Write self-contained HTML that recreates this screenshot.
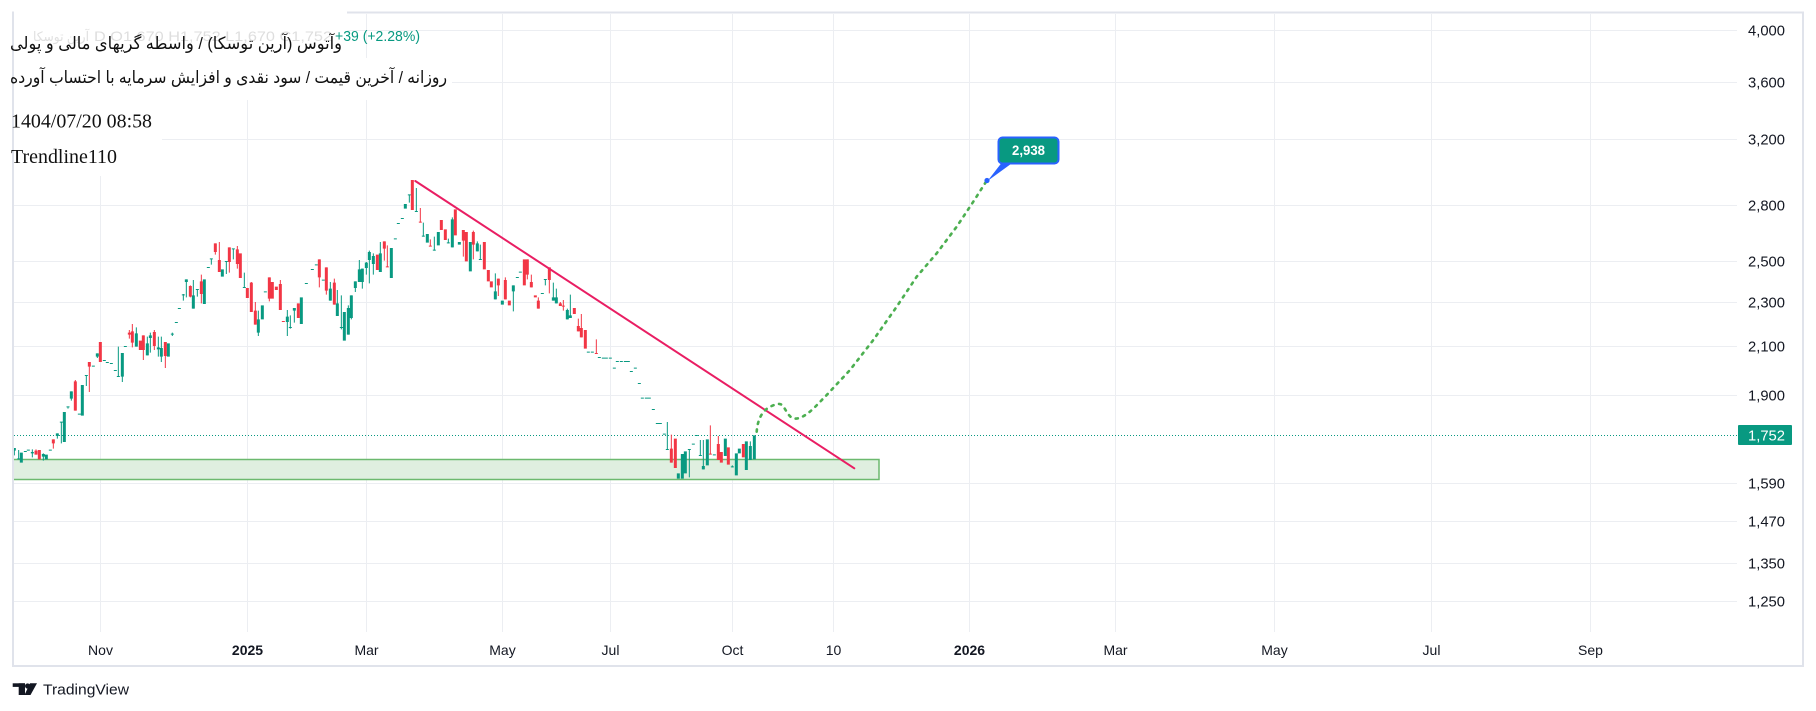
<!DOCTYPE html>
<html>
<head>
<meta charset="utf-8">
<style>
html,body{margin:0;padding:0;background:#ffffff;}
body{width:1816px;height:711px;overflow:hidden;}
svg{display:block;}
.ax{font-family:"Liberation Sans",sans-serif;font-size:15px;fill:#131722;}
.tx{font-family:"Liberation Sans",sans-serif;font-size:14px;fill:#131722;}
</style>
</head>
<body>
<svg width="1816" height="711" viewBox="0 0 1816 711" xmlns="http://www.w3.org/2000/svg">
<defs>
<clipPath id="pane"><rect x="14" y="14" width="1723" height="618"/></clipPath>
</defs>
<rect x="0" y="0" width="1816" height="711" fill="#ffffff"/>

<!-- grid -->
<g stroke="#eceef2" stroke-width="1">
<line x1="100.5" y1="14" x2="100.5" y2="632"/>
<line x1="247.5" y1="14" x2="247.5" y2="632"/>
<line x1="366.5" y1="14" x2="366.5" y2="632"/>
<line x1="502.5" y1="14" x2="502.5" y2="632"/>
<line x1="610.5" y1="14" x2="610.5" y2="632"/>
<line x1="732.5" y1="14" x2="732.5" y2="632"/>
<line x1="833.5" y1="14" x2="833.5" y2="632"/>
<line x1="969.5" y1="14" x2="969.5" y2="632"/>
<line x1="1115.5" y1="14" x2="1115.5" y2="632"/>
<line x1="1274.5" y1="14" x2="1274.5" y2="632"/>
<line x1="1431.5" y1="14" x2="1431.5" y2="632"/>
<line x1="1590.5" y1="14" x2="1590.5" y2="632"/>
<line x1="14" y1="30.5" x2="1737" y2="30.5"/>
<line x1="14" y1="82.5" x2="1737" y2="82.5"/>
<line x1="14" y1="139.5" x2="1737" y2="139.5"/>
<line x1="14" y1="205.5" x2="1737" y2="205.5"/>
<line x1="14" y1="261.5" x2="1737" y2="261.5"/>
<line x1="14" y1="302.5" x2="1737" y2="302.5"/>
<line x1="14" y1="346.5" x2="1737" y2="346.5"/>
<line x1="14" y1="395.5" x2="1737" y2="395.5"/>
<line x1="14" y1="483.5" x2="1737" y2="483.5"/>
<line x1="14" y1="521.5" x2="1737" y2="521.5"/>
<line x1="14" y1="563.5" x2="1737" y2="563.5"/>
<line x1="14" y1="601.5" x2="1737" y2="601.5"/>
</g>

<g clip-path="url(#pane)">
<!-- support zone -->
<rect x="8" y="459.5" width="871" height="20" fill="#dfefe0" stroke="#6cb96f" stroke-width="1.5"/>

<!-- last price dotted line -->
<line x1="14" y1="435.5" x2="1737" y2="435.5" stroke="#089981" stroke-width="1" stroke-dasharray="1 2"/>

<!-- candles group 1 -->
<g transform="translate(0,220) scale(0.3333333)" fill="none" stroke-linecap="butt">
<path stroke="#089981" stroke-width="3" d="M43 684V706 M56 690V718 M97 688V712 M130 700V722 M172 640V656 M184 606V670 M204 560V566 M214 514V542 M259 466V498 M292 400V414 M355 380V469 M367 399V486 M409 322V380 M442 350V406 M451 338V398 M475 350V410 M484 350V426 M517 338V348 M550 222V242 M559 178V232 M580 180V266 M592 208V230 M634 116V134 M679 124V162 M700 86V118 M733 158V202 M775 272V348"/>
<path stroke="#089981" stroke-width="9" d="M43 684V692 M64 698V728 M97 696V700 M130 702V710 M139 704V718 M172 640V648 M193 576V666 M214 514V536 M247 495V587 M292 400V410 M367 399V470 M409 340V380 M442 370V406 M451 346V354 M475 382V388 M484 384V410 M505 370V410 M559 178V186 M580 226V266 M613 178V252 M667 148V170 M775 298V338 M787 256V298 M56 715V718 M76 693V696 M85 689V692 M151 689V692 M184 605V608 M204 559V562 M238 581V584 M259 465V468 M280 437V440 M313 420V423 M322 426V429 M334 429V432 M346 450V453 M355 468V471 M376 378V381 M517 341V344 M529 306V309 M538 264V267 M550 223V226 M592 207V210 M625 141V144 M634 115V118 M679 123V126 M700 85V88 M733 201V204"/>
<path stroke="#f23645" stroke-width="3" d="M108 688V704 M160 658V686 M226 480V572 M268 426V516 M388 330V356 M397 312V382 M430 346V420 M463 330V390 M496 366V444 M571 196V232 M604 164V250 M646 70V104 M658 66V156 M688 82V158 M712 78V146 M754 186V276 M766 246V314"/>
<path stroke="#f23645" stroke-width="9" d="M108 692V704 M118 690V718 M160 658V670 M226 484V572 M268 426V440 M301 366V426 M388 338V344 M397 334V368 M421 362V390 M430 346V390 M463 336V378 M496 366V408 M571 198V230 M604 184V222 M646 70V96 M658 120V156 M688 82V126 M712 88V132 M721 100V174 M742 204V234 M754 188V276 M766 272V314"/>
</g>

<!-- candles group 2 -->
<g transform="translate(260,170) scale(0.3333333)" fill="none" stroke-linecap="butt">
<path stroke="#089981" stroke-width="3" d="M82 420V498 M91 436V476 M103 414V458 M211 336V392 M232 360V438 M244 376V478 M265 406V494 M274 376V448 M286 334V366 M298 270V336 M307 296V356 M319 276V314 M328 242V340 M340 250V314 M361 216V306 M448 74V98 M469 54V124 M490 158V200 M523 200V242 M565 206V220 M577 142V232 M652 214V244 M661 224V268 M706 310V388 M760 346V424"/>
<path stroke="#089981" stroke-width="9" d="M82 440V456 M103 414V422 M124 382V462 M211 356V392 M232 400V438 M253 426V512 M265 414V494 M274 376V444 M286 334V354 M298 298V336 M307 296V336 M319 278V294 M328 246V270 M340 258V282 M361 250V306 M394 234V324 M436 102V116 M502 192V218 M535 186V226 M577 148V232 M598 216V224 M631 216V304 M652 220V244 M706 364V388 M727 392V404 M760 346V364 M16 364V367 M91 471V474 M139 339V342 M157 297V300 M169 283V286 M190 329V332 M244 471V474 M406 205V208 M415 159V162 M427 144V147 M448 73V76 M469 123V126 M490 197V200 M523 239V242 M565 217V220 M661 267V270 M772 321V324 M781 305V308"/>
<path stroke="#f23645" stroke-width="3" d="M28 322V394 M61 330V420 M178 268V352 M199 292V374 M223 326V404 M373 214V272 M382 226V290 M481 114V158 M511 208V228 M610 180V260 M640 182V268 M715 326V378 M736 322V388"/>
<path stroke="#f23645" stroke-width="9" d="M28 322V386 M37 336V386 M49 350V360 M61 342V420 M115 400V444 M178 268V322 M199 292V362 M223 338V404 M352 254V300 M373 214V236 M457 30V120 M544 150V180 M556 178V210 M586 118V196 M610 180V212 M619 186V274 M640 186V224 M673 216V298 M685 300V334 M694 334V352 M715 326V346 M736 330V388 M748 392V406 M70 453V456 M382 289V292 M481 155V158 M511 227V230"/>
</g>

<!-- candles group 3 -->
<g transform="translate(520,240) scale(0.3333333)" fill="none" stroke-linecap="butt">
<path stroke="#089981" stroke-width="3" d="M76 118V136 M100 128V182 M109 146V190 M142 206V238 M151 164V234 M442 546V628 M508 628V712 M541 600V646 M550 600V688 M637 676V682 M691 604V660"/>
<path stroke="#089981" stroke-width="9" d="M100 172V182 M109 172V190 M142 210V238 M151 226V234 M475 700V716 M487 642V716 M496 634V700 M550 678V688 M562 598V676 M616 596V648 M649 640V706 M658 626V640 M679 604V690 M691 618V660 M703 586V658 M67 159V162 M76 117V120 M205 335V338 M217 335V338 M238 351V354 M250 353V356 M259 353V356 M271 353V356 M283 383V386 M292 363V366 M304 363V366 M316 363V366 M325 363V366 M334 393V396 M346 383V386 M358 429V432 M367 473V476 M379 473V476 M388 473V476 M400 507V510 M412 549V552 M421 549V552 M433 581V584 M442 627V630 M508 627V630 M520 611V614 M529 585V588 M541 645V648 M583 643V646 M637 679V682"/>
<path stroke="#f23645" stroke-width="3" d="M22 58V118 M34 104V142 M55 172V206 M88 82V160 M121 186V198 M130 180V212 M175 236V274 M184 222V292 M229 298V340 M454 584V668 M571 556V642 M595 588V660"/>
<path stroke="#f23645" stroke-width="9" d="M13 58V136 M22 58V104 M34 126V142 M46 166V172 M55 182V206 M88 82V120 M121 190V198 M163 204V222 M175 258V274 M184 264V292 M196 270V326 M454 626V668 M466 596V684 M595 612V660 M604 636V668 M625 622V674 M670 612V652 M130 197V200 M229 339V342 M571 641V644"/>
</g>

<!-- trendline -->
<line x1="415.3" y1="181" x2="854.3" y2="468.3" stroke="#e91e63" stroke-width="2" stroke-linecap="round"/>

<!-- projection path -->
<path d="M756.7 431.7 C757.5 420 762 410 771.7 406 C776 404 780 402.5 783 406 C786 410 788 416 793 418.3 C800 420 808 414 816 406 L826.7 395 L850 370 L873.3 340 L896.7 306.7 L916.7 276.7 L936.7 253.3 L956.7 226.7 L973.3 201.7 L986.7 180.7" fill="none" stroke="#4caf50" stroke-width="2.6" stroke-dasharray="2.2 5.6" stroke-linecap="round"/>

<!-- callout -->
<polygon points="1003,161 1015,161 987.5,181" fill="#2962ff"/>
<circle cx="987" cy="180.5" r="2.6" fill="#2962ff"/>
<rect x="998.5" y="137.5" width="60" height="26" rx="4" ry="4" fill="#089981" stroke="#2962ff" stroke-width="2"/>
<text x="1028.5" y="155" text-anchor="middle" font-family="Liberation Sans, sans-serif" font-size="14" font-weight="bold" fill="#ffffff" textLength="33" lengthAdjust="spacingAndGlyphs">2,938</text>
</g>

<!-- frame -->
<rect x="13" y="12.5" width="1790" height="653.5" fill="none" stroke="#e0e3eb" stroke-width="2"/>

<!-- price axis labels -->
<g class="ax">
<text x="1748" y="35.5" textLength="37" lengthAdjust="spacingAndGlyphs">4,000</text>
<text x="1748" y="87.5" textLength="37" lengthAdjust="spacingAndGlyphs">3,600</text>
<text x="1748" y="144.5" textLength="37" lengthAdjust="spacingAndGlyphs">3,200</text>
<text x="1748" y="210.5" textLength="37" lengthAdjust="spacingAndGlyphs">2,800</text>
<text x="1748" y="266.5" textLength="37" lengthAdjust="spacingAndGlyphs">2,500</text>
<text x="1748" y="307.5" textLength="37" lengthAdjust="spacingAndGlyphs">2,300</text>
<text x="1748" y="351.5" textLength="37" lengthAdjust="spacingAndGlyphs">2,100</text>
<text x="1748" y="400.5" textLength="37" lengthAdjust="spacingAndGlyphs">1,900</text>
<text x="1748" y="488.5" textLength="37" lengthAdjust="spacingAndGlyphs">1,590</text>
<text x="1748" y="526.5" textLength="37" lengthAdjust="spacingAndGlyphs">1,470</text>
<text x="1748" y="568.5" textLength="37" lengthAdjust="spacingAndGlyphs">1,350</text>
<text x="1748" y="606.5" textLength="37" lengthAdjust="spacingAndGlyphs">1,250</text>
</g>
<rect x="1738" y="425" width="54" height="20" rx="1" fill="#089981"/>
<text x="1748" y="440.5" font-family="Liberation Sans, sans-serif" font-size="15" fill="#ffffff" textLength="37" lengthAdjust="spacingAndGlyphs">1,752</text>

<!-- time axis labels -->
<g class="tx" text-anchor="middle">
<text x="100.5" y="655">Nov</text>
<text x="247.5" y="655" font-weight="bold">2025</text>
<text x="366.5" y="655">Mar</text>
<text x="502.5" y="655">May</text>
<text x="610.5" y="655">Jul</text>
<text x="732.5" y="655">Oct</text>
<text x="833.5" y="655">10</text>
<text x="969.5" y="655" font-weight="bold">2026</text>
<text x="1115.5" y="655">Mar</text>
<text x="1274.5" y="655">May</text>
<text x="1431.5" y="655">Jul</text>
<text x="1590.5" y="655">Sep</text>
</g>

<!-- header boxes -->
<rect x="14" y="0" width="333" height="58" fill="#ffffff"/>
<rect x="14" y="58" width="438" height="42" fill="#ffffff"/>
<rect x="14" y="100" width="148" height="76" fill="#ffffff"/>
<rect x="0" y="0" width="14" height="11" fill="#ffffff"/>

<!-- legend (faint) -->
<text x="61" y="41" text-anchor="middle" direction="rtl" font-family="Liberation Sans, DejaVu Sans, sans-serif" font-size="13" fill="#e0e0e0" textLength="56" lengthAdjust="spacingAndGlyphs">آرین توسکا</text>
<text x="94" y="41" font-family="Liberation Sans, sans-serif" font-size="14" fill="#dedede" textLength="238" lengthAdjust="spacingAndGlyphs">D  O1,670  H1,752  L1,670  C1,752</text>
<text x="335" y="41" font-family="Liberation Sans, sans-serif" font-size="14.5" fill="#089981" textLength="85" lengthAdjust="spacingAndGlyphs">+39 (+2.28%)</text>

<!-- title lines -->
<text x="176" y="49" text-anchor="middle" direction="rtl" font-family="Liberation Sans, DejaVu Sans, sans-serif" font-size="17" fill="#111111" textLength="332" lengthAdjust="spacingAndGlyphs">وآتوس (آرین توسکا) / واسطه گریهای مالی و پولی</text>
<text x="228.5" y="83" text-anchor="middle" direction="rtl" font-family="Liberation Sans, DejaVu Sans, sans-serif" font-size="17" fill="#111111" textLength="437" lengthAdjust="spacingAndGlyphs">روزانه / آخرین قیمت / سود نقدی و افزایش سرمایه با احتساب آورده</text>
<text x="11" y="127.5" font-family="Liberation Serif, serif" font-size="20" fill="#111111" textLength="141" lengthAdjust="spacingAndGlyphs">1404/07/20 08:58</text>
<text x="11" y="163" font-family="Liberation Serif, serif" font-size="20" fill="#111111" textLength="106" lengthAdjust="spacingAndGlyphs">Trendline110</text>

<!-- TradingView logo -->
<g fill="#131722">
<rect x="12.7" y="683.3" width="12.3" height="3.6"/>
<rect x="18.7" y="683.3" width="6.3" height="11.7"/>
<circle cx="27.6" cy="686" r="2.6"/>
<polygon points="30,683.3 37,683.3 30.5,695 24.5,695"/>
</g>
<text x="43" y="694.5" font-family="Liberation Sans, sans-serif" font-size="15" fill="#131722" textLength="86" lengthAdjust="spacingAndGlyphs">TradingView</text>
</svg>
</body>
</html>
